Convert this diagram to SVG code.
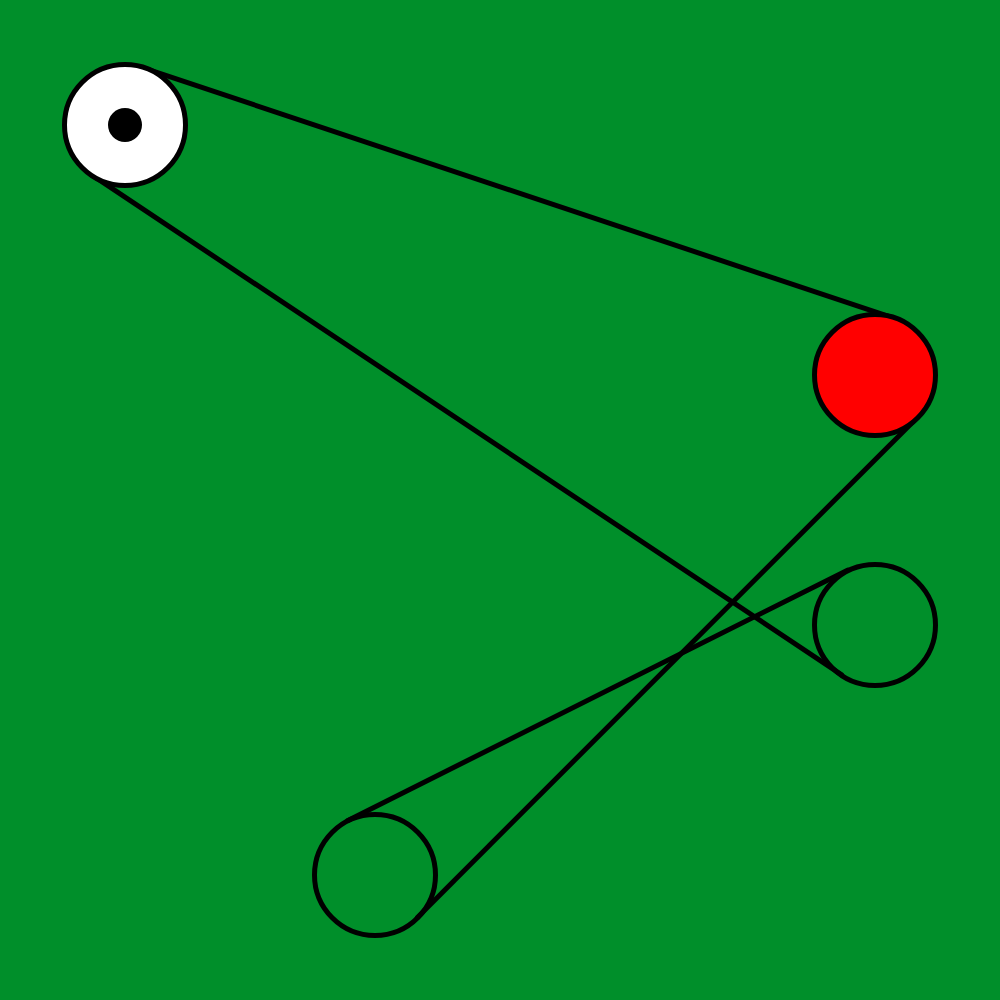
<svg xmlns="http://www.w3.org/2000/svg" width="1000" height="1000" viewBox="0 0 1000 1000">
<style>
.belt{stroke:#000;stroke-width:5;fill:none;stroke-linecap:round}
.pulley{stroke:#000;stroke-width:5}
</style>
<rect x="0" y="0" width="1000" height="1000" fill="#008f2a"/>
<g id="connectors">
<line class="belt" x1="144.0" y1="68.1" x2="894.0" y2="318.1"/>
<line class="belt" x1="91.7" y1="174.9" x2="841.7" y2="674.9"/>
<line class="belt" x1="917.4" y1="417.4" x2="417.4" y2="917.4"/>
<line class="belt" x1="347.9" y1="820.4" x2="847.5" y2="570.2"/>
</g>
<g id="pulley1">
<circle class="pulley" cx="125" cy="125" r="60.5" fill="#fff"/>
<circle cx="125" cy="125" r="17" fill="#000"/>
</g>
<g id="pulley2">
<circle class="pulley" cx="875" cy="375" r="60.5" fill="#f00"/>
</g>
<g id="pulley3">
<circle class="pulley" cx="875" cy="625" r="60.5" fill="none"/>
</g>
<g id="pulley4">
<circle class="pulley" cx="375" cy="875" r="60.5" fill="none"/>
</g>
</svg>
